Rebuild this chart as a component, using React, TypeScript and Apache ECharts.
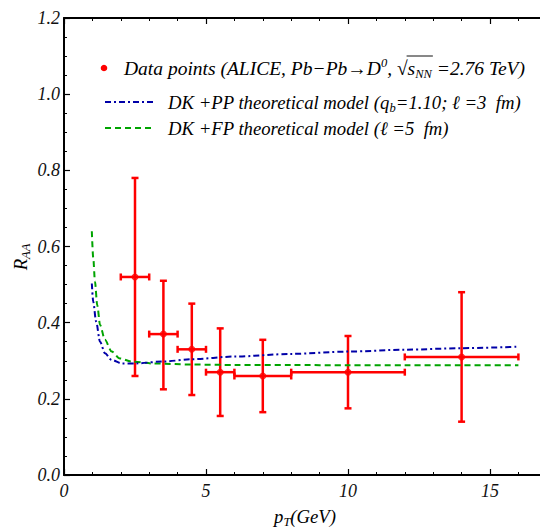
import React, { useEffect, useRef } from "react";
import * as echarts from "echarts";

// Measured data points (ALICE Pb-Pb -> D0)
const dataX = [2.5, 3.5, 4.5, 5.5, 7, 10, 14];
const dataY = [0.52, 0.37, 0.33, 0.27, 0.26, 0.27, 0.31];
const yLow = [0.26, 0.225, 0.21, 0.155, 0.165, 0.175, 0.14];
const yHigh = [0.78, 0.51, 0.45, 0.385, 0.355, 0.365, 0.48];
const xLow = [2, 3, 4, 5, 6, 8, 12];
const xHigh = [3, 4, 5, 6, 8, 12, 16];

// DK+PP model curve
const ppX = [0.98, 1.03, 1.13, 1.27, 1.44, 1.68, 2.03, 2.5, 3.5, 4.5, 6, 8, 10, 12, 14, 16];
const ppY = [0.503, 0.455, 0.403, 0.35, 0.32, 0.302, 0.293, 0.293, 0.298, 0.304, 0.311, 0.318, 0.324, 0.329, 0.333, 0.337];

// DK+FP model curve
const fpX = [0.98, 1.03, 1.09, 1.17, 1.27, 1.44, 1.68, 1.97, 2.38, 3.1, 4.5, 6, 8, 10, 12, 14, 16];
const fpY = [0.64, 0.57, 0.508, 0.446, 0.394, 0.355, 0.324, 0.306, 0.298, 0.293, 0.29, 0.289, 0.289, 0.288, 0.288, 0.288, 0.288];

const FONT = "'Liberation Serif', 'Times New Roman', serif";
const FS = 18.7;
const FS1 = 19.5;
const SUB = 12.5;
const mkRich = (fs: number) => {
  const base = { fontFamily: FONT, fontStyle: "italic" as const, fontSize: fs, color: "#111", lineHeight: 24 };
  return {
    a: base,
    up: { ...base, fontSize: SUB, lineHeight: 24, verticalAlign: "top" as const },
    dn: { ...base, fontSize: SUB, lineHeight: 14, verticalAlign: "bottom" as const, padding: [6, 0, 0, 0] },
  };
};
const rich = mkRich(FS);
const rich1 = mkRich(FS1);

function measure(text: string, size: number): number {
  const c = document.createElement("canvas").getContext("2d");
  if (!c) return text.length * size * 0.45;
  c.font = `italic ${size}px ${FONT}`;
  return c.measureText(text).width;
}

export default function App() {
  const ref = useRef<HTMLDivElement>(null);
  useEffect(() => {
    if (!ref.current) return;
    const chart = echarts.init(ref.current, null, { renderer: "svg" });
    const labelStyle = { fontFamily: FONT, fontStyle: "italic", fontSize: 18, color: "#111" };
    const axisCommon = {
      axisLine: { show: true, onZero: false, lineStyle: { color: "#000", width: 2 } },
      axisTick: { show: true, inside: true, length: 6, lineStyle: { color: "#000", width: 1.2 } },
      minorTick: { show: true, length: 3, lineStyle: { color: "#000", width: 1 } },
      splitLine: { show: false },
    };
    const errData = dataX.map((x, i) => [x, dataY[i], xLow[i], xHigh[i], yLow[i], yHigh[i]]);

    // overline of the square root in legend row 1
    const row1X = 124;
    const pre = measure("Data points (ALICE, Pb−Pb→D", FS1) + measure("0", SUB) + measure(", √", FS1);
    const olStart = row1X + pre - 1;
    const olEnd = row1X + pre + measure("s", FS1) + measure("NN", SUB) + 1;

    const option: any = {
      animation: false,
      backgroundColor: "#fff",
      grid: { left: 64, top: 18, width: 568, height: 457, outerBoundsMode: "none", containLabel: false },
      xAxis: [
        {
          type: "value", min: 0, max: 20, interval: 5, position: "bottom",
          ...axisCommon,
          minorTick: { ...axisCommon.minorTick, splitNumber: 5 },
          axisLabel: { ...labelStyle, margin: 7, showMaxLabel: false, formatter: (v: number) => String(v) },
        },
        {
          type: "value", min: 0, max: 20, interval: 5, position: "top",
          ...axisCommon,
          minorTick: { ...axisCommon.minorTick, splitNumber: 5 },
          axisLabel: { show: false },
        },
      ],
      yAxis: [
        {
          type: "value", min: 0, max: 1.2, interval: 0.2,
          ...axisCommon,
          minorTick: { ...axisCommon.minorTick, splitNumber: 4 },
          axisLabel: { ...labelStyle, margin: 4, formatter: (v: number) => v.toFixed(1) },
        },
      ],
      series: [
        {
          type: "line", name: "DK+FP", xAxisIndex: 0, yAxisIndex: 0,
          data: fpX.map((x, i) => [x, fpY[i]]),
          showSymbol: false, symbol: "none", smooth: 0.3, smoothMonotone: "x", clip: true,
          lineStyle: { color: "#00a400", width: 2, type: [6, 4] },
        },
        {
          type: "line", name: "DK+PP", xAxisIndex: 0, yAxisIndex: 0,
          data: ppX.map((x, i) => [x, ppY[i]]),
          showSymbol: false, symbol: "none", smooth: 0.3, smoothMonotone: "x", clip: true,
          lineStyle: { color: "#0000a8", width: 2, type: [6, 3, 2, 3] },
        },
        {
          type: "custom", name: "errors", xAxisIndex: 0, yAxisIndex: 0,
          data: errData,
          renderItem: (params: any, api: any) => {
            const x = api.value(0), y = api.value(1);
            const pl = api.coord([api.value(2), y]);
            const ph = api.coord([api.value(3), y]);
            const pb = api.coord([x, api.value(4)]);
            const pt = api.coord([x, api.value(5)]);
            const cap = 3.5;
            const st = { stroke: "#ff0000", lineWidth: 2.5 };
            const ln = (x1: number, y1: number, x2: number, y2: number) => ({
              type: "line", shape: { x1, y1, x2, y2 }, style: st,
            });
            return {
              type: "group",
              children: [
                ln(pl[0], pl[1], ph[0], ph[1]),
                ln(pb[0], pb[1], pt[0], pt[1]),
                ln(pl[0], pl[1] - cap, pl[0], pl[1] + cap),
                ln(ph[0], ph[1] - cap, ph[0], ph[1] + cap),
                ln(pb[0] - cap, pb[1], pb[0] + cap, pb[1]),
                ln(pt[0] - cap, pt[1], pt[0] + cap, pt[1]),
              ],
            };
          },
        },
        {
          type: "scatter", name: "Data points", xAxisIndex: 0, yAxisIndex: 0,
          data: dataX.map((x, i) => [x, dataY[i]]),
          symbol: "circle", symbolSize: 7, itemStyle: { color: "#ff0000" },
        },
      ],
      graphic: [
        { type: "circle", shape: { cx: 104, cy: 68, r: 3.3 }, style: { fill: "#ff0000" } },
        {
          type: "text", x: row1X, y: 68,
          style: {
            text: "{a|Data points (ALICE, Pb−Pb→D}{up|0}{a|, √}{a|s}{dn|NN}{a| =2.76 TeV)}",
            rich: rich1, verticalAlign: "middle", align: "left",
          },
        },
        { type: "line", shape: { x1: olStart, y1: 56, x2: olEnd, y2: 56 }, style: { stroke: "#111", lineWidth: 1 } },
        { type: "line", shape: { x1: 105, y1: 102, x2: 155, y2: 102 }, style: { stroke: "#0000a8", lineWidth: 2, lineDash: [6, 3, 2, 3] } },
        {
          type: "text", x: 168, y: 102,
          style: {
            text: "{a|DK +PP theoretical model (q}{dn|b}{a|=1.10; ℓ =3  fm)}",
            rich, verticalAlign: "middle", align: "left",
          },
        },
        { type: "line", shape: { x1: 105, y1: 128, x2: 155, y2: 128 }, style: { stroke: "#00a400", lineWidth: 2, lineDash: [6, 4] } },
        {
          type: "text", x: 168, y: 128,
          style: {
            text: "{a|DK +FP theoretical model (ℓ =5  fm)}",
            rich, verticalAlign: "middle", align: "left",
          },
        },
        {
          type: "text", x: 20, y: 257, rotation: Math.PI / 2,
          style: { text: "{a|R}{dn|AA}", rich, align: "center", verticalAlign: "middle" },
        },
        {
          type: "text", x: 305, y: 516,
          style: { text: "{a|p}{dn|T}{a|(GeV)}", rich, align: "center", verticalAlign: "middle" },
        },
      ],
    };
    chart.setOption(option);
    return () => chart.dispose();
  }, []);
  return (
    <div
      ref={ref}
      style={{ position: "fixed", left: 0, top: 0, width: 540, height: 529, background: "#fff" }}
    />
  );
}
